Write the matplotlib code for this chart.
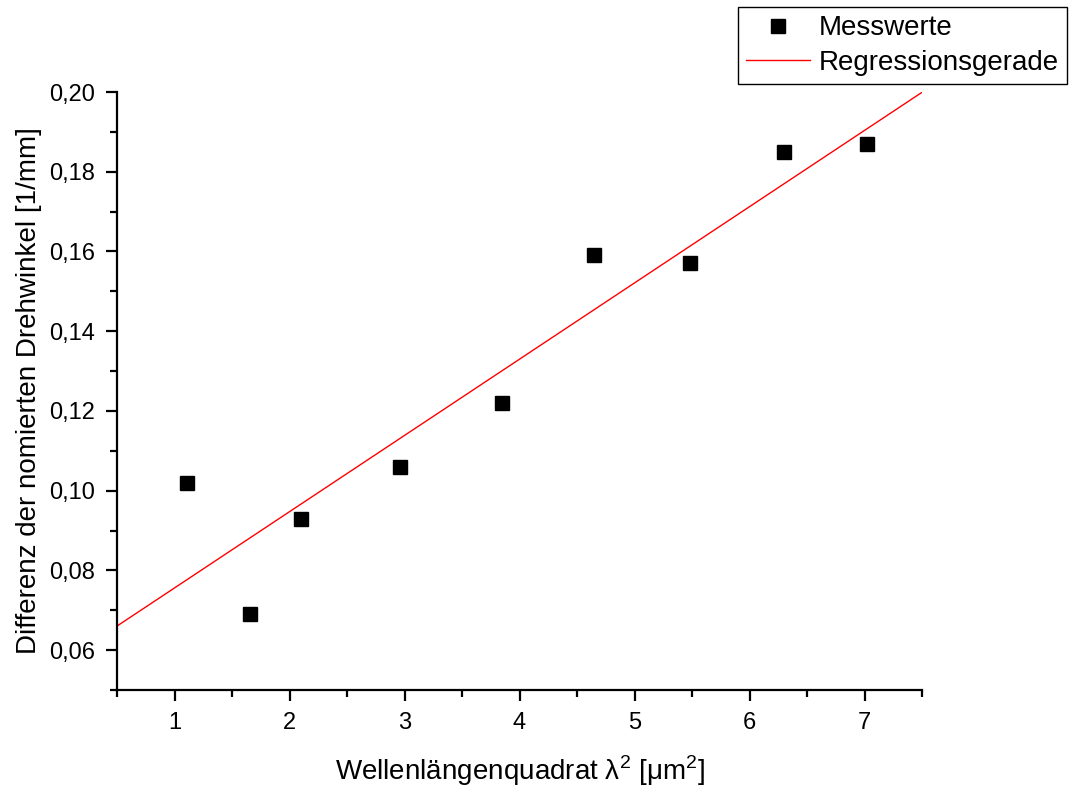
import numpy as np
import matplotlib
matplotlib.use('Agg')
import matplotlib.pyplot as plt
from matplotlib.ticker import MultipleLocator, FuncFormatter

plt.rcParams['font.family'] = ['Liberation Sans', 'DejaVu Sans']
plt.rcParams['mathtext.fontset'] = 'custom'
plt.rcParams['mathtext.rm'] = 'Liberation Sans'

# Messwerte
lambda_sq = [1.113, 1.653, 2.10, 2.96, 3.845, 4.65, 5.48, 6.30, 7.02]
diff_dreh = [0.102, 0.069, 0.093, 0.106, 0.122, 0.159, 0.157, 0.185, 0.187]
x_range = [0.5, 7.5]

# Regressionsgerade aus den Messwerten
m, b = np.polyfit(lambda_sq, diff_dreh, 1)
x_fit = np.array(x_range)
y_fit = m * x_fit + b

fig = plt.figure(figsize=(10.7, 7.87), dpi=100)
ax = fig.add_axes([117/1070, 1 - 690/787, (922 - 117)/1070, (690 - 92)/787])

ax.plot(x_fit, y_fit, color='red', lw=1.0, label='Regressionsgerade', zorder=2)
ax.plot(lambda_sq, diff_dreh, 's', color='black', markersize=9.5,
        label='Messwerte', zorder=3)

ax.set_xlim(x_range)
ax.set_ylim(0.05, 0.20)
ax.xaxis.set_major_locator(MultipleLocator(1))
ax.xaxis.set_minor_locator(MultipleLocator(0.5))
ax.yaxis.set_major_locator(MultipleLocator(0.02))
ax.yaxis.set_minor_locator(MultipleLocator(0.01))
ax.yaxis.set_major_formatter(FuncFormatter(lambda v, p: f'{v:.2f}'.replace('.', ',')))

for s in ['top', 'right']:
    ax.spines[s].set_visible(False)
for s in ['left', 'bottom']:
    ax.spines[s].set_linewidth(1.6)

ax.tick_params(which='major', direction='out', length=8, width=1.6, labelsize=17, pad=8)
ax.tick_params(which='minor', direction='out', length=5, width=1.6)

ax.set_xlabel('Wellenlängenquadrat λ$^2$ [μm$^2$]', fontsize=20, labelpad=14)
ax.set_ylabel('Differenz der nomierten Drehwinkel [1/mm]', fontsize=20, labelpad=5)

handles, labels = ax.get_legend_handles_labels()
leg = fig.legend(handles[::-1], labels[::-1], loc='upper left',
                 bbox_to_anchor=(738/1070, 1 - 7/787), fontsize=20, frameon=True,
                 fancybox=False, edgecolor='black', framealpha=1,
                 handlelength=2.3, borderpad=0.3, borderaxespad=0,
                 labelspacing=0.3, handletextpad=0.3)
leg.get_frame().set_linewidth(1.0)

fig.savefig('out.png', dpi=100)
